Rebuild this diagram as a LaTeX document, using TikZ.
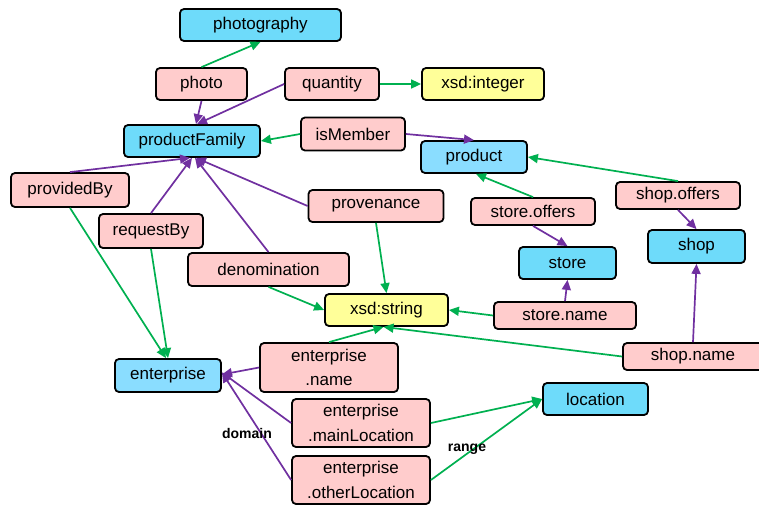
\documentclass[tikz,border=0pt]{standalone}
\usepackage{fontspec}
\setmainfont{Liberation Sans}
\usetikzlibrary{arrows.meta}
\definecolor{clsblue}{RGB}{110,219,250}
\definecolor{clsblueb}{RGB}{138,221,255}
\definecolor{proppink}{RGB}{255,204,204}
\definecolor{dtyellow}{RGB}{255,255,153}
\definecolor{rngreen}{RGB}{0,176,80}
\definecolor{dompurple}{RGB}{112,48,160}
\tikzset{
  box/.style={draw=black, line width=1.8pt, rounded corners=4pt, inner sep=0pt,
    align=center, font=\fontsize{17}{24.5}\selectfont},
  cls/.style={box, fill=clsblue},
  clsb/.style={box, fill=clsblueb},
  prop/.style={box, fill=proppink},
  dtype/.style={box, fill=dtyellow},
  rng/.style={draw=rngreen, line width=1.7pt, -{Triangle[length=10pt,width=9pt]}},
  dom/.style={draw=dompurple, line width=1.7pt, -{Triangle[length=10pt,width=9pt]}},
  tag/.style={font=\fontsize{14}{16}\bfseries\selectfont, inner sep=0pt}
}
\begin{document}
\begin{tikzpicture}[x=1pt,y=-1pt]
\useasboundingbox (0,0) rectangle (759,506);

% classes
\node[cls, minimum width=161, minimum height=32] (photography) at (260.5,25) {photography};
\node[cls, minimum width=136, minimum height=32] (productFamily) at (192,141) {productFamily};
\node[clsb, minimum width=106, minimum height=32] (product) at (474,157) {product};
\node[cls, minimum width=97, minimum height=33] (shop) at (696.5,246.5) {shop};
\node[cls, minimum width=97, minimum height=32] (store) at (567.5,263) {store};
\node[clsb, minimum width=106, minimum height=33] (enterprise) at (168,375.5) {enterprise};
\node[cls, minimum width=105, minimum height=32] (location) at (595.5,399) {location};

% datatypes
\node[dtype, minimum width=122, minimum height=32] (xinteger) at (483,84) {xsd:integer};
\node[dtype, minimum width=123, minimum height=32] (xstring) at (386.5,310) {xsd:string};

% properties
\node[prop, minimum width=91, minimum height=32] (photo) at (201.5,84) {photo};
\node[prop, minimum width=94, minimum height=32] (quantity) at (332,84) {quantity};
\node[prop, minimum width=104, minimum height=33] (isMember) at (353,134) {isMember};
\node[prop, minimum width=118, minimum height=34] (providedBy) at (70,190) {providedBy};
\node[prop, minimum width=104, minimum height=34] (requestBy) at (151,231) {requestBy};
\node[prop, minimum width=135, minimum height=32] (provenance) at (376,206) {provenance};
\node[prop, minimum width=124, minimum height=27] (storeOffers) at (533,211.5) {store.offers};
\node[prop, minimum width=124, minimum height=27] (shopOffers) at (678,195.5) {shop.offers};
\node[prop, minimum width=161, minimum height=33] (denomination) at (268.5,269.5) {denomination};
\node[prop, minimum width=142, minimum height=27] (storeName) at (565,315.5) {store.name};
\node[prop, minimum width=140, minimum height=27] (shopName) at (693,356.5) {shop.name};
\node[prop, minimum width=138, minimum height=49] (entName) at (329,367.5) {enterprise\\.name};
\node[prop, minimum width=138, minimum height=48] (entMain) at (361,423) {enterprise\\.mainLocation};
\node[prop, minimum width=138, minimum height=48] (entOther) at (361,480) {enterprise\\.otherLocation};

% domains
\draw[dom] (photo.south) -- ([xshift=4pt]productFamily.north);
\draw[dom] (quantity.west) -- ([xshift=5pt]productFamily.north);
\draw[dom] (isMember.east) -- (product.north);
\draw[dom] (providedBy.north) -- ([xshift=-2pt]productFamily.south);
\draw[dom] (requestBy.north) -- (productFamily.south);
\draw[dom] (denomination.north) -- ([xshift=3pt]productFamily.south);
\draw[dom] (provenance.west) -- ([xshift=4pt]productFamily.south);
\draw[dom] (storeOffers.south) -- (store.north);
\draw[dom] (shopOffers.south) -- (shop.north);
\draw[dom] (storeName.north) -- (store.south);
\draw[dom] (shopName.north) -- (shop.south);
\draw[dom] (entName.west) -- ([yshift=1pt]enterprise.east);
\draw[dom] (entMain.west) -- ([yshift=3pt]enterprise.east);
\draw[dom] (entOther.west) -- ([yshift=3pt]enterprise.east);

% ranges
\draw[rng] (photo.north) -- (photography.south);
\draw[rng] (quantity.east) -- (xinteger.west);
\draw[rng] (isMember.west) -- (productFamily.east);
\draw[rng] (providedBy.south) -- ([xshift=-2pt]enterprise.north);
\draw[rng] (requestBy.south) -- (enterprise.north);
\draw[rng] (denomination.south) -- (xstring.west);
\draw[rng] (provenance.south) -- (xstring.north);
\draw[rng] (storeOffers.north) -- ([xshift=2pt]product.south);
\draw[rng] (shopOffers.north) -- (product.east);
\draw[rng] (storeName.west) -- (xstring.east);
\draw[rng] (shopName.west) -- ([xshift=-3pt]xstring.south);
\draw[rng] (entName.north) -- ([xshift=-3pt]xstring.south);
\draw[rng] (entMain.east) -- (location.west);
\draw[rng] (entOther.east) -- (location.west);

% labels
\node[tag] (domainLbl) at (247,433) {domain};
\node[tag] (rangeLbl) at (467,449) {range};
\end{tikzpicture}
\end{document}
